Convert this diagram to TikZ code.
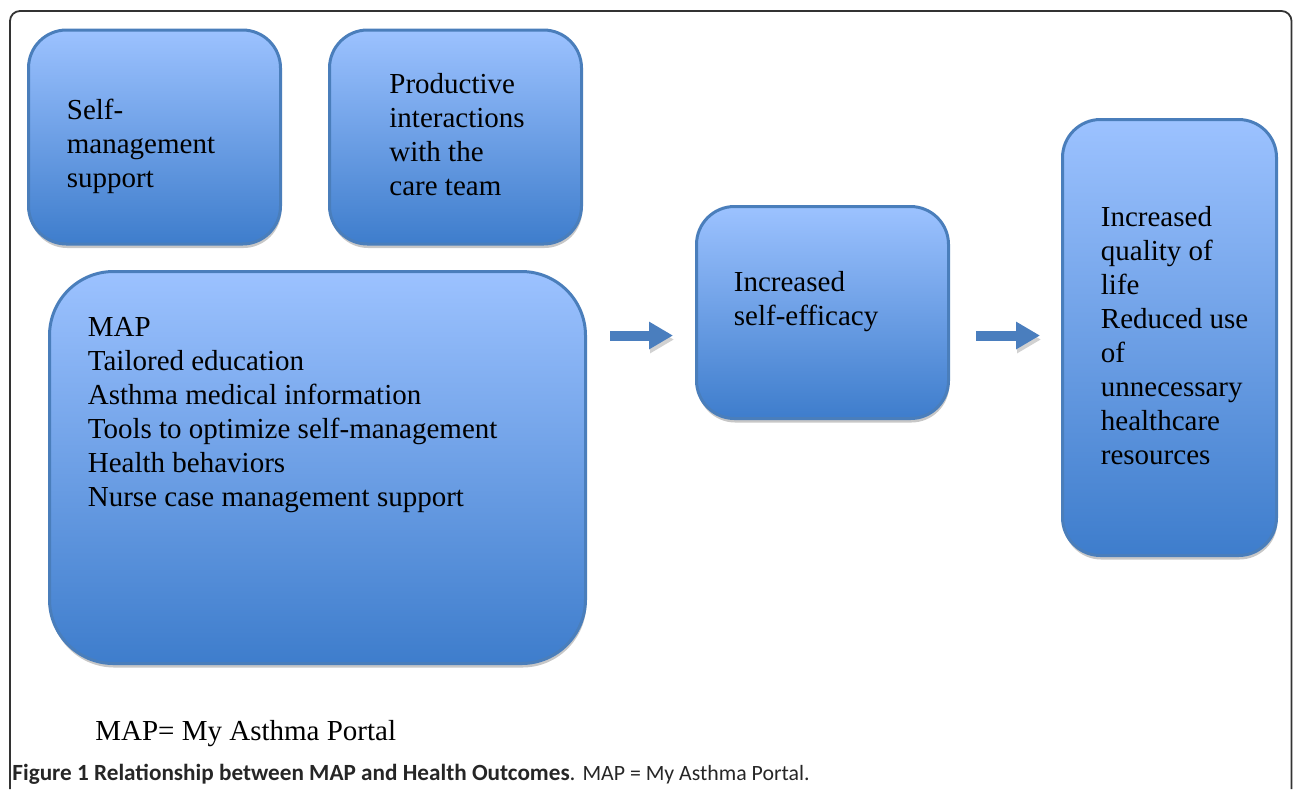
\documentclass[tikz,border=0pt]{standalone}
\usepackage{fontspec}
\setmainfont{Liberation Serif}
\newfontfamily\capfont{Carlito}
\usetikzlibrary {arrows.meta,
                 calc,
                 positioning,
                 shadows}
\definecolor{boxtop}{RGB}{156,194,255}
\definecolor{boxbot}{RGB}{62,125,204}
\definecolor{boxline}{RGB}{74,126,187}
\definecolor{arrowblue}{RGB}{74,126,190}
\tikzset{
        base/.style={draw=boxline, line width=1.5pt, top color=boxtop,
                     bottom color=boxbot,
                     drop shadow={shadow xshift=0.4pt, shadow yshift=-2pt,
                                  fill=black!22, opacity=1}},
        card/.style={base, rounded corners=19pt, minimum width=126pt,
                     minimum height=107pt},
        bigcard/.style={base, rounded corners=32pt, minimum width=268pt,
                        minimum height=196pt},
        tallcard/.style={base, rounded corners=19pt, minimum width=107pt,
                         minimum height=218pt},
        txt/.style={align=left, inner sep=0pt,
                    font=\fontsize{14.5}{17}\selectfont},
        myarrow/.style={draw=arrowblue, line width=5pt,
                        -{Triangle[length=12pt, width=13pt]},
                        preaction={draw=black!18,
                                   transform canvas={xshift=0.5pt, yshift=-2pt}}},
        frame/.style={draw=black!80, line width=0.9pt, rounded corners=5pt},
 }

\begin{document}
\begin{tikzpicture}[x=0.5pt, y=-0.5pt]
    \useasboundingbox (0,0) rectangle (1293,789);
    \draw[frame] (10,789) -- (10,11) -- (1291.5,11) -- (1291.5,789);

    % boxes
    \node[card] (selfm) at (154.5,137) {};
    \node[card, right=23pt of selfm] (prod) {};
    \node[bigcard] (map) at (317.5,467.5) {};
    \node[card, minimum height=106pt] (eff) at (822.5,312.5) {};
    \node[tallcard] (outc) at (1169.5,337.5) {};

    % box texts
    \node[txt, below right=35pt and 19.75pt of selfm.north west] (selfm-t)
        {Self-\\management\\support};
    \node[txt, below right=22pt and 30.5pt of prod.north west] (prod-t)
        {Productive\\interactions\\with the\\care team};
    \node[txt, below right=23.25pt and 19.75pt of map.north west] (map-t)
        {MAP\\Tailored education\\Asthma medical information\\
         Tools to optimize self-management\\Health behaviors\\
         Nurse case management support};
    \node[txt, below right=33pt and 19.25pt of eff.north west] (eff-t)
        {Increased\\self-efficacy};
    \node[txt, below right=43.75pt and 19.75pt of outc.north west] (outc-t)
        {Increased\\quality of\\life\\Reduced use\\of\\unnecessary\\healthcare\\resources};

    \draw[myarrow] ($(map.east |- eff.center)+(23,23)$) -- ($(eff.west)+(-22,23)$);
    \draw[myarrow] ($(eff.east)+(26,23)$) -- ($(outc.west |- eff.center)+(-21,23)$);

    \node[txt, anchor=base west] (legend) at (95,740) {MAP= My Asthma Portal};
    \node[anchor=base west, inner sep=0pt, text=black!85,
          font=\capfont\fontsize{11.6}{13}\selectfont] (caption) at (12,780)
        {\textbf{Figure 1 Relationship between MAP and Health Outcomes}.
         {\fontsize{10.9}{13}\selectfont MAP = My Asthma Portal.}};
\end{tikzpicture}
\end{document}
